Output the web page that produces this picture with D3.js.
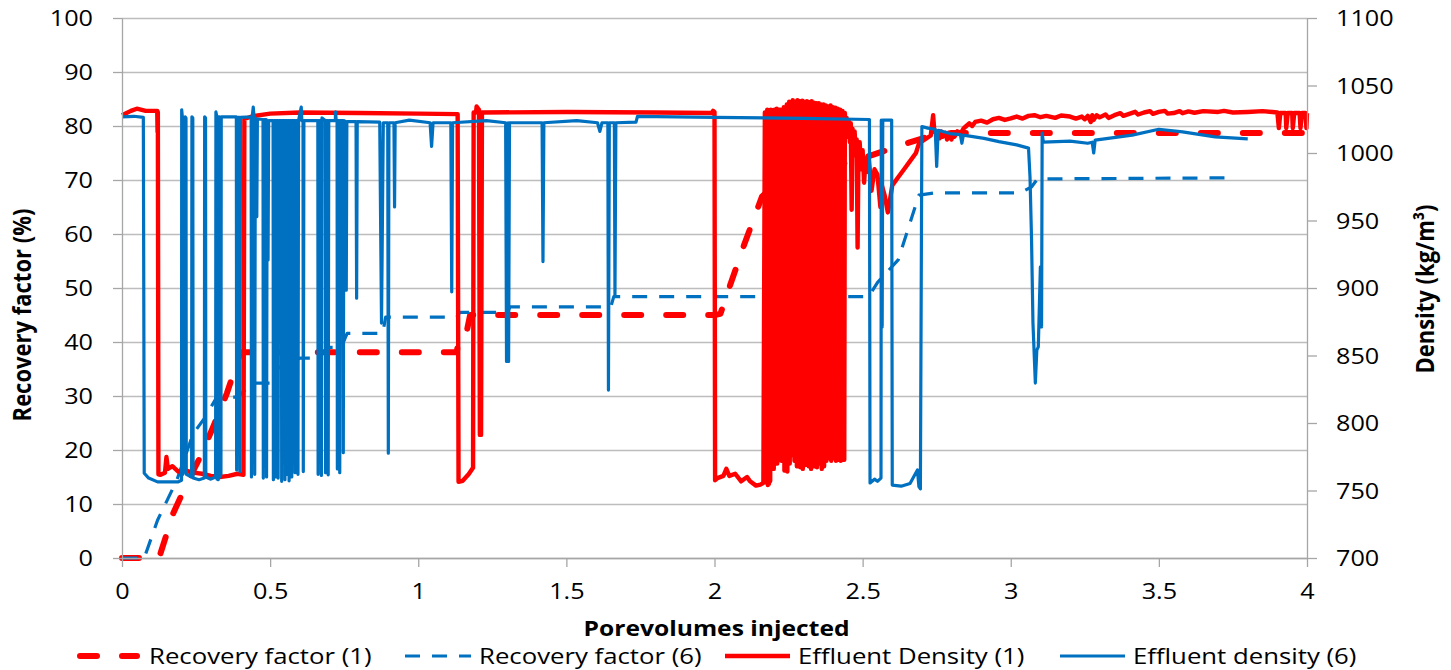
<!DOCTYPE html>
<html>
<head>
<meta charset="utf-8">
<script src="https://cdn.jsdelivr.net/npm/d3@7"></script>
<style>
  body { margin: 0; background: #fff; }
  svg { display: block; }
</style>
</head>
<body>
<svg id="chart" width="1451" height="670"></svg>
<script>
// ---- tick labels ----
const xTicks = [0, 0.5, 1, 1.5, 2, 2.5, 3, 3.5, 4];
const recoveryTicks = [0, 10, 20, 30, 40, 50, 60, 70, 80, 90, 100];
const densityTicks = [700, 750, 800, 850, 900, 950, 1000, 1050, 1100];

const seriesNames = ["Recovery factor (1)", "Recovery factor (6)", "Effluent Density (1)", "Effluent density (6)"];

// ---- recovery factor (%) vs porevolumes injected ----
const recovery1 = [[0,0],[0.125,0],[0.173,8.3],[0.22,13.9],[0.264,18.7],[0.308,24.3],[0.354,30.5],[0.4,38.1],
  [1.13,38.1],[1.135,40],[1.14,41.8],[1.165,42.3],[1.175,45],[2.0,45],[2.02,45.2],[2.04,48.5],[2.1,58],
  [2.16,66.9],[2.2,69],[2.3,71],[2.4,72.5],[2.5,74],[2.58,75.5],[2.65,76.8],[2.72,78],[2.8,78.7],[3.99,78.7]];

const recovery6 = [[0,0],[0.075,0],[0.12,7],[0.185,14.4],[0.24,23],[0.28,26],[0.32,29.8],[0.39,29.8],
  [0.44,32.4],[0.51,32.4],[0.52,35],[0.6,37],[0.66,37],[0.7,39],[0.74,39],[0.76,41.6],[0.88,41.6],
  [0.89,44.6],[1.13,44.6],[1.14,45.5],[1.30,45.5],[1.31,46.5],[1.65,46.5],[1.66,48.4],[2.52,48.4],
  [2.55,51],[2.62,55.2],[2.69,67.2],[2.74,67.6],[3.03,67.6],[3.07,68.7],[3.09,70.2],[3.75,70.4]];

// ---- effluent density (kg/m3) vs porevolumes injected ----
const density1 = [[0,1028],[0.03,1031.2],[0.05,1032.8],[0.08,1031.2],[0.119,1031.2],[0.12,1015.6],[0.121,1030.4],
  [0.123,762],[0.13,761.6],[0.145,763.2],[0.15,774.8],[0.155,766],[0.17,768],[0.19,764],[0.21,765.2],
  [0.24,763.2],[0.27,762.4],[0.3,760.8],[0.33,760],[0.36,760.8],[0.39,762.4],[0.41,761.6],[0.413,1025.2],
  [0.44,1027.2],[0.5,1029.2],[0.6,1030],[0.8,1029.6],[1.0,1029.2],[1.133,1028.8],[1.136,756.4],[1.15,757.2],
  [1.17,762],[1.185,766.8],[1.187,1030],[1.195,1030],[1.197,1034.4],[1.205,1032],[1.208,791.2],[1.212,791.2],
  [1.215,1030],[1.5,1030.4],[1.8,1030],[1.99,1029.6],[1.995,1031.2],[2.0,1030.4],[2.002,757.6],[2.01,759.2],
  [2.03,760.8],[2.04,766],[2.05,760.8],[2.07,762.4],[2.09,756.8],[2.11,760],[2.12,756.8],[2.14,753.6],
  [2.155,754.4],[2.165,755.6],
  [2.170,1030],[2.172,760],[2.174,1028.8],[2.176,756],[2.178,1032],[2.180,754],[2.182,1030],[2.184,755],
  [2.186,1031.2],[2.188,757],[2.190,1032],[2.192,822],[2.194,1030.4],[2.196,788],[2.198,1030],[2.200,766],
  [2.202,1032],[2.204,772],[2.206,1030.8],[2.208,778],[2.210,1032.8],[2.212,770],[2.214,1031.2],[2.216,772.8],
  [2.218,1032],[2.222,972],[2.224,1032],[2.226,772],[2.228,1031.2],[2.232,860],[2.234,1034],[2.236,764.8],
  [2.238,1030],[2.242,774],[2.244,1036],[2.246,764],[2.248,1034],[2.250,784],[2.252,1038],[2.254,770],
  [2.256,1036],[2.258,792],[2.260,1038],[2.262,776],[2.264,1039.2],[2.266,786],[2.268,1036],[2.270,772],
  [2.272,1038],[2.274,782],[2.276,1036.8],[2.278,768],[2.280,1039.2],[2.282,788],[2.284,1036],[2.286,776],
  [2.288,1038.4],[2.290,767.2],[2.292,1036.8],[2.294,774],[2.296,1038.8],[2.298,766],[2.300,1036],[2.302,780],
  [2.304,1038],[2.306,768.8],[2.308,1036],[2.310,787.2],[2.312,1038.4],[2.314,772],[2.316,1035.2],[2.318,768],
  [2.320,1037.6],[2.322,820],[2.324,1036],[2.326,766],[2.328,1038.4],[2.330,771.2],[2.332,1036],[2.334,780],
  [2.336,1037.2],[2.338,768],[2.340,1035.2],[2.342,776],[2.344,1036.8],[2.346,767.2],[2.348,1035.2],[2.350,774],
  [2.352,1036.8],[2.354,770],[2.356,1034.4],[2.358,776],[2.360,1036],[2.362,766],[2.364,1034],[2.366,772],
  [2.368,1036],[2.370,768],[2.372,1034.4],[2.374,778],[2.376,1035.2],[2.378,772],[2.380,1034],[2.382,820],
  [2.384,1034.4],[2.386,774],[2.388,1033.6],[2.390,776],[2.392,1035.2],[2.394,772],[2.396,1032.8],[2.398,780],
  [2.400,1034],[2.402,774],[2.404,1032],[2.406,860],[2.408,1033.6],[2.410,772],[2.412,1032],[2.414,780],
  [2.416,1032.8],[2.418,772.8],[2.420,1031.2],[2.422,776],[2.424,1032],[2.426,772],[2.428,1030.4],[2.430,774],
  [2.432,1031.2],[2.434,776],[2.436,1030],[2.438,772.8],[2.440,1029.6],
  [2.443,1018],[2.446,1026],[2.45,1012],[2.453,1024],[2.457,1008],[2.46,1022],[2.463,958],[2.466,1018],
  [2.47,1004],[2.473,1016],[2.477,998],[2.48,1010],[2.483,930],[2.486,1000],[2.49,1008],[2.495,988],[2.5,1002],
  [2.505,978],[2.51,996],[2.515,986],[2.52,998],[2.53,972],[2.54,988],[2.55,984],[2.56,960],[2.565,976],
  [2.575,968],[2.585,956],[2.59,962],[2.6,976],[2.62,982],[2.64,988],[2.66,994],[2.68,1000],[2.69,1007],
  [2.71,1010],[2.73,1013],[2.738,1028],[2.742,1016],
  [2.76,1011],[2.765,1016],[2.77,1012],[2.78,1015],[2.785,1010],[2.79,1014],[2.8,1010],[2.805,1015],[2.81,1012],
  [2.82,1016],[2.83,1014],[2.84,1018],[2.85,1020],[2.86,1022],[2.87,1020],[2.88,1023],[2.9,1024],[2.92,1022.5],
  [2.94,1025],[2.96,1026],[2.98,1024.5],[3.0,1025.6],[3.02,1027],[3.04,1025.5],[3.06,1027.5],[3.08,1028],
  [3.1,1026.5],[3.12,1027.5],[3.15,1026],[3.17,1027.8],[3.2,1027],[3.22,1025.5],[3.24,1027],[3.25,1025],
  [3.26,1027.5],[3.27,1023],[3.275,1028],[3.28,1024.5],[3.29,1028],[3.3,1026.4],[3.32,1028.5],[3.33,1026],
  [3.35,1028],[3.37,1029.5],[3.38,1027.5],[3.4,1029],[3.42,1030.5],[3.43,1028.5],[3.45,1030],[3.47,1031],
  [3.48,1029],[3.5,1030.4],[3.52,1031.2],[3.53,1029.2],[3.55,1029.6],[3.57,1031],[3.58,1029.5],[3.6,1030.8],
  [3.62,1029.8],[3.65,1031],[3.7,1030.4],[3.72,1031.2],[3.75,1030],[3.8,1030.4],[3.85,1031],[3.9,1030],
  [3.905,1018.4],[3.91,1029.6],[3.928,1029.6],[3.93,1018.4],[3.935,1029.6],[3.95,1029.6],[3.952,1018.4],
  [3.957,1029.6],[3.975,1029.6],[3.978,1018.4],[3.983,1029.6],[3.995,1029.6],[3.998,1018.4],[4.0,1029.6]];

const density6 = [[0,1026.8],[0.04,1027.2],[0.072,1026.4],[0.075,762.8],[0.09,759.2],[0.12,756.4],[0.15,756.4],
  [0.19,756.4],[0.201,757.6],[0.2015,1032],[0.204,1026],[0.205,762],[0.212,768],[0.213,1026.8],[0.216,1026],
  [0.217,762],[0.235,760],[0.236,1026.8],[0.239,1026],[0.240,759.2],[0.260,758],[0.278,759.2],[0.279,1026.8],
  [0.282,1026],[0.283,760],[0.300,758.4],[0.316,760],[0.317,1030.4],[0.320,1027.2],[0.321,758.4],[0.325,758],
  [0.326,1026.8],[0.329,1026.8],[0.330,760],[0.334,762],[0.335,1026.8],[0.386,1026.8],[0.387,765.2],
  [0.389,1026.4],[0.397,1026.4],[0.398,764],[0.400,1026.4],[0.436,1026.8],[0.437,760],[0.439,1026],
  [0.443,1034],[0.446,1026],[0.448,762],[0.450,1026],[0.455,952.8],[0.457,1025.2],[0.476,1024.8],[0.477,759.2],
  [0.479,1024.8],[0.487,1024.8],[0.488,760],[0.490,1024],[0.493,920.8],[0.495,1024],[0.510,1024],[0.511,758],
  [0.513,1024],[0.518,1024],[0.519,760],[0.521,1024],[0.526,1024],[0.527,759.2],[0.529,1024],[0.538,1024],
  [0.539,756.8],[0.541,1024],[0.549,1024],[0.550,758],[0.552,1024],[0.556,1024],[0.557,762],[0.559,1024],
  [0.563,1024],[0.564,757.2],[0.566,1024],[0.572,1024],[0.573,760],[0.575,1024],[0.583,1024],[0.584,763.2],
  [0.586,1024],[0.593,1024],[0.594,762],[0.596,1024],[0.605,1034],[0.607,1024],[0.611,1024],[0.612,764],
  [0.614,1024],[0.661,1024],[0.662,762],[0.664,1024],[0.672,1024],[0.673,761.2],[0.675,1026],[0.686,1024],
  [0.687,763.2],[0.689,1024],[0.695,1024],[0.696,761.6],[0.698,1024],[0.720,1024],[0.721,1030.4],[0.723,1024],
  [0.726,1024],[0.727,766],[0.729,1024],[0.734,1024],[0.735,763.2],[0.737,1024],[0.746,1024],[0.747,778],
  [0.749,1024],[0.755,1023.2],[0.757,898.4],[0.759,1023.2],[0.790,1023.2],[0.792,892.4],[0.794,1023.2],
  [0.870,1022.8],[0.876,874],[0.882,1022.4],[0.897,1022.4],[0.899,777.6],[0.901,1022.4],[0.918,1022.4],
  [0.920,960],[0.922,1022.4],[0.970,1024.4],[1.04,1022.4],[1.045,1004.8],[1.05,1022.4],[1.110,1022.4],
  [1.113,897.2],[1.116,1022.4],[1.23,1024],[1.295,1022.4],[1.298,845.6],[1.303,1022.4],[1.305,845.6],
  [1.308,1022.4],[1.418,1022.4],[1.421,919.6],[1.424,1022.4],[1.535,1024],[1.605,1022.4],[1.613,1016],
  [1.62,1022.4],[1.640,1022.4],[1.642,824.4],[1.645,1022.4],[1.662,1022.4],[1.664,894.8],[1.667,1022.4],
  [1.735,1022.8],[1.74,1027.2],[2.0,1026.4],[2.3,1025.6],[2.523,1024.8],[2.525,755.6],[2.54,758.4],[2.55,756.8],
  [2.562,759.2],[2.563,1024.4],[2.566,871.2],[2.568,1024.4],[2.598,1024.4],[2.600,754],[2.63,753.2],[2.66,755.2],
  [2.685,765.2],[2.69,752.8],[2.695,751.2],[2.70,1019.6],[2.72,1018.4],[2.745,1017.6],[2.75,990],[2.755,1016.8],
  [2.795,1014.4],[2.83,1013.6],[2.835,1007.2],[2.84,1013.2],[2.91,1010.8],[2.96,1008.4],[3.02,1006],[3.06,1003.6],
  [3.065,982.4],[3.07,938],[3.075,874],[3.083,829.6],[3.088,854],[3.093,856.4],[3.1,915.6],[3.104,871.2],
  [3.106,1014.8],[3.11,1008],[3.2,1008.8],[3.26,1007.2],[3.275,1008],[3.28,1000],[3.285,1009.6],[3.41,1013.2],
  [3.5,1017.6],[3.58,1015.6],[3.69,1012],[3.8,1010.4]];

// ---- layout ----
const plot = { left: 122, top: 18, right: 1307, bottom: 558 };
const RED = "#ff0000", BLUE = "#0070c0";
const GRID = "#bdbdbd", AXIS = "#a6a6a6";
const FONT = "'Open Sans', 'Noto Sans', sans-serif";
const tickSX = 1.2, textSX = 1.17;

const svg = d3.select("#chart");

const x = d3.scaleLinear().domain([0, 4]).range([plot.left, plot.right]);
const yL = d3.scaleLinear().domain([0, 100]).range([plot.bottom, plot.top]);
const yR = d3.scaleLinear().domain([700, 1100]).range([plot.bottom, plot.top]);

// horizontal gridlines on the recovery axis
svg.append("g")
  .attr("transform", `translate(${plot.left},0)`)
  .call(d3.axisLeft(yL).tickValues(recoveryTicks).tickSize(-(plot.right - plot.left)).tickFormat(""))
  .call(g => g.select(".domain").remove())
  .call(g => g.selectAll("line").attr("stroke", GRID).attr("stroke-width", 1.3));

// ---- series ----
const lineL = d3.line().x(d => x(d[0])).y(d => yL(d[1]));
const lineR = d3.line().x(d => x(d[0])).y(d => yR(d[1]));

const gSeries = svg.append("g").attr("fill", "none").attr("stroke-linejoin", "round");
gSeries.append("path").datum(recovery1).attr("d", lineL)
  .attr("stroke", RED).attr("stroke-width", 6).attr("stroke-dasharray", "17,25").attr("stroke-linecap", "round");
gSeries.append("path").datum(recovery6).attr("d", lineL)
  .attr("stroke", BLUE).attr("stroke-width", 3.2).attr("stroke-dasharray", "15,12");
gSeries.append("path").datum(density1).attr("d", lineR)
  .attr("stroke", RED).attr("stroke-width", 4.4);
gSeries.append("path").datum(density6).attr("d", lineR)
  .attr("stroke", BLUE).attr("stroke-width", 3.2);

// ---- axes ----
function styleAxis(g) {
  g.select(".domain").attr("stroke", AXIS).attr("stroke-width", 1.3);
  g.selectAll(".tick line").attr("stroke", AXIS).attr("stroke-width", 1.3);
  g.selectAll("text").attr("font-family", FONT).attr("font-size", 21).attr("fill", "#000");
}

svg.append("g")
  .attr("transform", `translate(${plot.left},0)`)
  .call(d3.axisLeft(yL).tickValues(recoveryTicks).tickSizeInner(9).tickSizeOuter(0))
  .call(styleAxis)
  .call(g => g.selectAll("text").attr("x", -29 / tickSX).attr("dy", "0.36em")
    .attr("transform", `scale(${tickSX},1)`));

svg.append("g")
  .attr("transform", `translate(${plot.right},0)`)
  .call(d3.axisRight(yR).tickValues(densityTicks).tickSizeInner(10).tickSizeOuter(0).tickFormat(d3.format("d")))
  .call(styleAxis)
  .call(g => g.selectAll("text").attr("x", 29 / tickSX).attr("dy", "0.36em")
    .attr("transform", `scale(${tickSX},1)`));

svg.append("g")
  .attr("transform", `translate(0,${plot.bottom})`)
  .call(d3.axisBottom(x).tickValues(xTicks).tickSizeInner(9).tickSizeOuter(0).tickFormat(d => String(d)))
  .call(styleAxis)
  .call(g => g.selectAll("text").attr("y", 41).attr("dy", 0)
    .attr("transform", `scale(${tickSX},1)`));

// ---- axis titles ----
svg.append("text")
  .attr("transform", `translate(${(plot.left + plot.right) / 2 + 2},636) scale(1.12,1)`)
  .attr("text-anchor", "middle").attr("font-family", FONT).attr("font-weight", 700)
  .attr("font-size", 22).text("Porevolumes injected");

svg.append("text")
  .attr("transform", `translate(31,${(plot.top + plot.bottom) / 2 + 27}) scale(1.12,1) rotate(-90)`)
  .attr("text-anchor", "middle").attr("font-family", FONT).attr("font-weight", 700)
  .attr("font-size", 22).text("Recovery factor (%)");

svg.append("text")
  .attr("transform", `translate(1434,${(plot.top + plot.bottom) / 2 + 1}) scale(1.12,1) rotate(-90)`)
  .attr("text-anchor", "middle").attr("font-family", FONT).attr("font-weight", 700)
  .attr("font-size", 22).text("Density (kg/m³)");

// ---- legend ----
const legendY = 656;
const legendItems = [
  { name: seriesNames[0], x0: 80, x1: 137, color: RED, width: 6, dash: "17,25", cap: "round" },
  { name: seriesNames[1], x0: 405, x1: 471, color: BLUE, width: 3.2, dash: "15,12", cap: "butt" },
  { name: seriesNames[2], x0: 725, x1: 790, color: RED, width: 4.4, dash: null, cap: "butt" },
  { name: seriesNames[3], x0: 1060, x1: 1125, color: BLUE, width: 3.2, dash: null, cap: "butt" }
];
const gLegend = svg.append("g");
legendItems.forEach(it => {
  gLegend.append("line")
    .attr("x1", it.x0).attr("x2", it.x1).attr("y1", legendY).attr("y2", legendY)
    .attr("stroke", it.color).attr("stroke-width", it.width)
    .attr("stroke-dasharray", it.dash).attr("stroke-linecap", it.cap);
  gLegend.append("text")
    .attr("transform", `translate(${it.x1 + (it.cap === "round" ? 12 : 8)},${legendY}) scale(${textSX},1)`)
    .attr("dy", "0.36em").attr("font-family", FONT).attr("font-size", 22).attr("fill", "#000")
    .text(it.name);
});
</script>
</body>
</html>
